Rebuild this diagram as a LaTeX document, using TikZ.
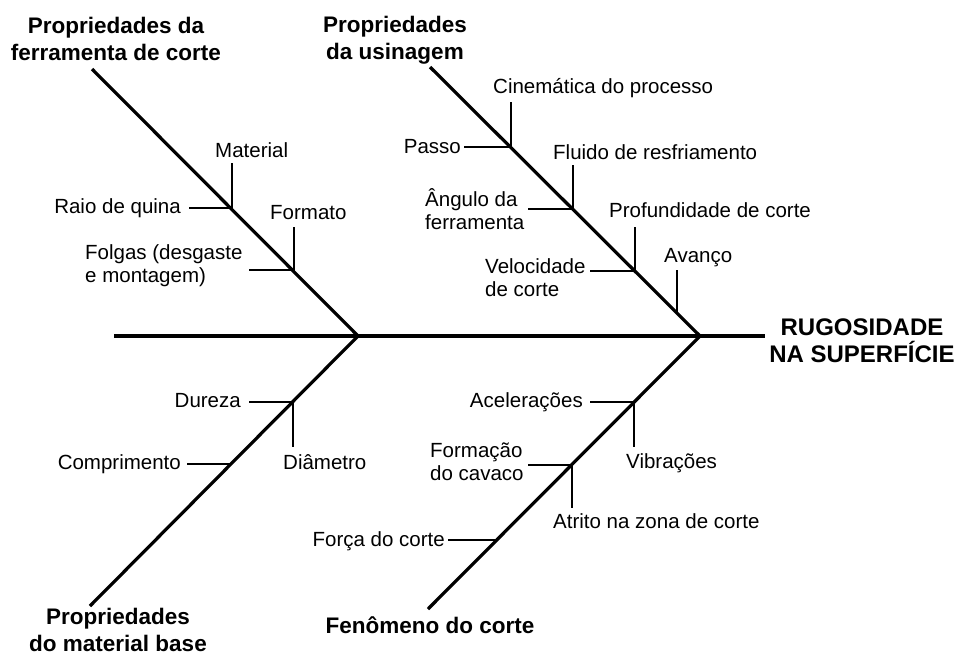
\documentclass[tikz,border=0pt]{standalone}
\usepackage{fontspec}
\setmainfont{Liberation Sans}
\tikzset{
  bone/.style={line width=3.2pt},
  twig/.style={line width=1.9pt},
  cause/.style={font=\fontsize{20.5}{23}\selectfont, inner sep=0pt, align=left},
  group/.style={font=\bfseries\fontsize{22.5}{26.5}\selectfont, inner sep=0pt, align=center},
}
\begin{document}
\begin{tikzpicture}[x=1pt,y=-1pt]
    \useasboundingbox (0,0) rectangle (959,657); % same frame as the image

    % spine and the four bones
    \coordinate (tail) at (114,336);
    \coordinate (head) at (765,336);
    \coordinate (jL) at (358,336);
    \coordinate (jR) at (700,336);
    \coordinate (ferrT) at (92,69);
    \coordinate (usinT) at (430,67);
    \coordinate (matbT) at (90,606);
    \coordinate (fenoT) at (428,609);
    \draw[bone] (tail) -- (head);
    \draw[bone] (ferrT) -- (jL) -- (matbT);
    \draw[bone] (usinT) -- (jR) -- (fenoT);

    % group titles (base = last line)
    \node[group, anchor=base] (ferr) at (116,60) {Propriedades da\\ferramenta de corte};
    \node[group, anchor=base] (usin) at (395,59) {Propriedades\\da usinagem};
    \node[group, anchor=base] (matb) at (118,651) {Propriedades\\do material base};
    \node[group, anchor=base] (feno) at (430,633) {Fenômeno do corte};
    \node[group, anchor=base, font=\bfseries\fontsize{24}{27}\selectfont] (rugo) at (862,362) {RUGOSIDADE\\NA SUPERFÍCIE};

    % ferramenta de corte
    \coordinate (a1) at (232,208);
    \coordinate (a2) at (294,270);
    \coordinate (raio-e) at (189,208);
    \coordinate (mat-e) at (232,163);
    \coordinate (folg-e) at (249,270);
    \coordinate (form-e) at (294,227);
    \draw[twig] (raio-e) -- (a1) -- (mat-e);
    \draw[twig] (folg-e) -- (a2) -- (form-e);
    \node[cause, anchor=base west] (mat) at (215,157) {Material};
    \node[cause, anchor=base east] (raio) at (181,213) {Raio de quina};
    \node[cause, anchor=base west] (form) at (270,219) {Formato};
    \node[cause, anchor=base west] (folg) at (85,282) {Folgas (desgaste\\e montagem)};

    % usinagem
    \coordinate (b1) at (511,147);
    \coordinate (b2) at (573,209);
    \coordinate (b3) at (635,271);
    \coordinate (b4) at (677,313);
    \coordinate (passo-e) at (464,147);
    \coordinate (cine-e) at (511,102);
    \coordinate (ang-e) at (528,209);
    \coordinate (flui-e) at (573,165);
    \coordinate (velo-e) at (590,271);
    \coordinate (prof-e) at (635,227);
    \coordinate (avan-e) at (677,270);
    \draw[twig] (passo-e) -- (b1) -- (cine-e);
    \draw[twig] (ang-e) -- (b2) -- (flui-e);
    \draw[twig] (velo-e) -- (b3) -- (prof-e);
    \draw[twig] (b4) -- (avan-e);
    \node[cause, anchor=base east] (passo) at (461,153) {Passo};
    \node[cause, anchor=base west] (cine) at (493,93) {Cinemática do processo};
    \node[cause, anchor=base west] (flui) at (553,159) {Fluido de resfriamento};
    \node[cause, anchor=base west] (ang) at (425,229) {Ângulo da\\ferramenta};
    \node[cause, anchor=base west] (prof) at (609,217) {Profundidade de corte};
    \node[cause, anchor=base west] (velo) at (485,296) {Velocidade\\de corte};
    \node[cause, anchor=base west] (avan) at (664,262) {Avanço};

    % material base
    \coordinate (c1) at (293,402);
    \coordinate (c2) at (230,464);
    \coordinate (dure-e) at (249,402);
    \coordinate (diam-e) at (293,447);
    \coordinate (comp-e) at (187,464);
    \draw[twig] (dure-e) -- (c1) -- (diam-e);
    \draw[twig] (comp-e) -- (c2);
    \node[cause, anchor=base east] (dure) at (241,407) {Dureza};
    \node[cause, anchor=base west] (diam) at (283,469) {Diâmetro};
    \node[cause, anchor=base east] (comp) at (181,469) {Comprimento};

    % fenomeno do corte
    \coordinate (d1) at (634,402);
    \coordinate (d2) at (572,465);
    \coordinate (d3) at (496,540);
    \coordinate (acel-e) at (590,402);
    \coordinate (vibr-e) at (634,447);
    \coordinate (cav-e) at (528,465);
    \coordinate (atri-e) at (572,508);
    \coordinate (forca-e) at (448,540);
    \draw[twig] (acel-e) -- (d1) -- (vibr-e);
    \draw[twig] (cav-e) -- (d2) -- (atri-e);
    \draw[twig] (forca-e) -- (d3);
    \node[cause, anchor=base east] (acel) at (583,407) {Acelerações};
    \node[cause, anchor=base west] (vibr) at (626,468) {Vibrações};
    \node[cause, anchor=base west] (cav) at (430,480) {Formação\\do cavaco};
    \node[cause, anchor=base west] (atri) at (553,528) {Atrito na zona de corte};
    \node[cause, anchor=base east] (forca) at (445,546) {Força do corte};
\end{tikzpicture}
\end{document}
